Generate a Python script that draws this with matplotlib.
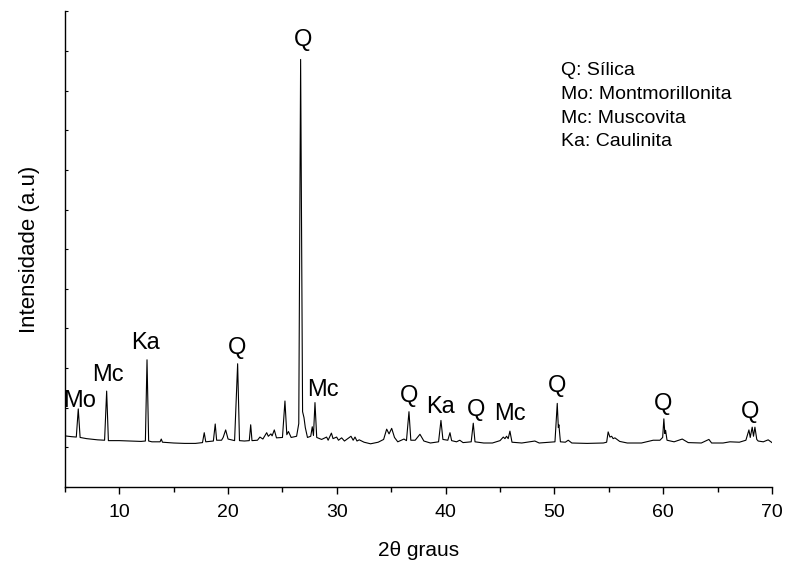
import matplotlib
matplotlib.use("Agg")
import matplotlib.pyplot as plt
from matplotlib.ticker import MultipleLocator

# difratograma (2theta em graus, intensidade em unidades arbitrarias)
two_theta = [5.0, 5.6, 6.05, 6.23, 6.4, 7.0, 8.0, 8.65, 8.84, 9.0,
             10.0, 11.0, 12.0, 12.4, 12.55, 12.7, 13.0, 13.75, 13.86, 13.97,
             15.0, 16.0, 17.0, 17.65, 17.81, 17.95, 18.65, 18.82, 18.95, 19.4,
             19.55, 19.78, 20.0, 20.6, 20.88, 21.05, 21.5, 21.95, 22.08, 22.2,
             22.7, 22.93, 23.2, 23.55, 23.7, 23.94, 24.05, 24.25, 24.45, 25.0,
             25.23, 25.4, 25.55, 25.8, 26.3, 26.5, 26.67, 26.85, 26.98, 27.1,
             27.3, 27.6, 27.74, 27.85, 27.99, 28.15, 28.6, 29.06, 29.2, 29.5,
             29.65, 29.98, 30.15, 30.44, 30.7, 31.3, 31.5, 31.67, 31.85, 32.06,
             32.5, 33.1, 33.8, 34.3, 34.58, 34.8, 35.04, 35.3, 35.6, 36.17,
             36.4, 36.63, 36.8, 37.2, 37.64, 38.0, 38.6, 39.35, 39.57, 39.75,
             40.2, 40.4, 40.55, 41.0, 41.3, 41.6, 42.35, 42.54, 42.7, 43.5,
             44.3, 45.0, 45.3, 45.45, 45.6, 45.75, 45.91, 46.1, 47.0, 48.2,
             48.6, 50.05, 50.26, 50.36, 50.41, 50.55, 51.0, 51.27, 51.6, 53.0,
             54.5, 54.8, 54.94, 55.1, 55.26, 55.4, 55.56, 56.0, 56.7, 58.0,
             59.08, 59.7, 59.95, 60.06, 60.15, 60.22, 60.35, 61.0, 61.75, 62.3,
             63.5, 64.2, 64.45, 65.5, 66.13, 67.0, 67.6, 67.88, 68.0, 68.18,
             68.3, 68.43, 68.6, 68.73, 69.2, 69.65, 70.0]
intensity = [129, 127, 126, 197, 125, 122, 119, 118, 242, 117,
             117, 116, 115, 116, 321, 116, 114, 114, 121, 113,
             111, 110, 110, 112, 137, 114, 116, 159, 118, 118,
             125, 144, 121, 117, 311, 117, 116, 117, 157, 117,
             118, 126, 121, 137, 128, 134, 129, 144, 124, 125,
             217, 132, 140, 125, 128, 160, 1079, 190, 175, 150,
             125, 128, 152, 130, 213, 125, 120, 126, 118, 136,
             122, 126, 118, 124, 116, 128, 118, 126, 116, 119,
             113, 109, 113, 120, 146, 134, 148, 125, 114, 121,
             117, 190, 118, 118, 133, 116, 111, 114, 168, 120,
             118, 137, 117, 114, 118, 112, 114, 161, 114, 111,
             111, 117, 126, 122, 128, 122, 141, 113, 111, 116,
             111, 114, 211, 150, 157, 114, 113, 118, 111, 110,
             111, 113, 139, 126, 128, 122, 124, 115, 111, 111,
             118, 118, 125, 172, 135, 143, 118, 114, 121, 112,
             111, 120, 111, 111, 114, 113, 118, 144, 125, 151,
             128, 151, 120, 116, 114, 119, 112]

# identificacao das fases
peak_labels = ["Mo", "Mc", "Ka", "Q", "Q", "Mc", "Q", "Ka", "Q", "Mc", "Q", "Q", "Q"]
label_x = [6.39, 8.96, 12.45, 20.82, 26.88, 28.72, 36.62, 39.56, 42.77, 45.9, 50.23, 59.97, 67.97]
label_y = [217, 283, 364, 351, 1129, 245, 230, 202, 194, 184, 255, 210, 189]

legend_lines = ["Q: Sílica", "Mo: Montmorillonita", "Mc: Muscovita", "Ka: Caulinita"]

plt.rcParams['font.family'] = ['Liberation Sans', 'DejaVu Sans']

fig = plt.figure(figsize=(7.99, 5.66), dpi=100)
ax = fig.add_axes([0.0812, 0.1396, 0.885, 0.8401])

ax.plot(two_theta, intensity, color='black', linewidth=0.8)

for lab, x, y in zip(peak_labels, label_x, label_y):
    ax.text(x, y, lab, fontsize=17, ha='center', va='center')

for i, line in enumerate(legend_lines):
    ax.text(50.6, 1051 - i * 60, line, fontsize=14, ha='left', va='center')

ax.set_xlim(5, 70)
ax.set_ylim(0, 1200)
ax.spines['top'].set_visible(False)
ax.spines['right'].set_visible(False)
ax.spines['left'].set_linewidth(1.0)
ax.spines['bottom'].set_linewidth(1.0)

ax.xaxis.set_major_locator(MultipleLocator(10))
ax.xaxis.set_minor_locator(MultipleLocator(5))
ax.yaxis.set_major_locator(MultipleLocator(100))
ax.tick_params(axis='x', which='major', direction='out', length=5, width=1.0,
               labelsize=14, pad=7)
ax.tick_params(axis='x', which='minor', direction='out', length=3.5, width=1.0)
ax.tick_params(axis='y', which='major', direction='in', length=2, width=0.8,
               labelleft=False)

ax.set_xlabel("2θ graus", fontsize=15, labelpad=15)
ax.set_ylabel("Intensidade (a.u)", fontsize=16, labelpad=18)

fig.savefig("out.png", dpi=100)
